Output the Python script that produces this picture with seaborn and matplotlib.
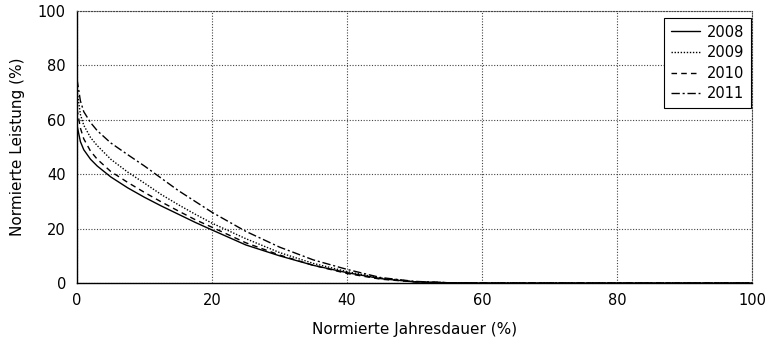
import numpy as np
import pandas as pd
import matplotlib
matplotlib.use("Agg")
import matplotlib.pyplot as plt
import seaborn as sns
from matplotlib.ticker import MultipleLocator

# Data
dauer = [0, 0.5, 1, 2, 3, 5, 7.5, 10, 12.5, 15, 17.5, 20, 25, 30, 35, 40, 45, 50, 55, 60, 100]
y2008 = [58, 52, 49, 45.5, 43, 39, 35, 31.5, 28.3, 25.3, 22.3, 19.5, 14, 10, 6.5, 3.8, 1.6, 0.4, 0.1, 0, 0]
y2009 = [71, 62, 58, 53.5, 50.5, 45.5, 40.8, 36.7, 32.5, 28.8, 25.3, 22, 16.3, 11.2, 7.2, 4.2, 1.8, 0.5, 0.1, 0, 0]
y2010 = [64, 57, 53, 48.5, 45.5, 41, 37, 33.3, 29.8, 26.5, 23.3, 20.5, 14.8, 10.3, 6.5, 3.5, 1.4, 0.4, 0.1, 0, 0]
y2011 = [75, 67, 63, 59, 56, 51.5, 47.2, 43, 38.5, 34, 30, 26, 19, 13.2, 8.5, 5, 2, 0.6, 0.1, 0, 0]
jahre = ["2008", "2009", "2010", "2011"]
xticks = [0, 20, 40, 60, 80, 100]
yticks = [0, 20, 40, 60, 80, 100]

frames = []
for j, vals in zip(jahre, [y2008, y2009, y2010, y2011]):
    frames.append(pd.DataFrame({"x": dauer, "y": vals, "Jahr": j}))
df = pd.concat(frames, ignore_index=True)

sns.set_style("white")
plt.rcParams["font.family"] = ["DejaVu Sans"]
plt.rcParams["text.color"] = "black"
plt.rcParams["axes.labelcolor"] = "black"
plt.rcParams["xtick.color"] = "black"
plt.rcParams["ytick.color"] = "black"

fig = plt.figure(figsize=(7.72, 3.44), dpi=100)
ax = fig.add_axes([77 / 772, 1 - 283 / 344, (752 - 77) / 772, (283 - 11) / 344])

dashes = {"2008": "", "2009": (1, 1.2), "2010": (4, 3), "2011": (6, 2, 1.5, 2)}
sns.lineplot(data=df, x="x", y="y", hue="Jahr", style="Jahr",
             palette=["black"] * 4, dashes=dashes, linewidth=1.0, ax=ax,
             legend=True)

ax.set_xlim(0, 100)
ax.set_ylim(0, 100)
ax.set_xticks(xticks)
ax.set_yticks(yticks)
ax.xaxis.set_minor_locator(MultipleLocator(10))
ax.yaxis.set_minor_locator(MultipleLocator(10))
ax.tick_params(axis="both", which="major", direction="in", length=5, width=0.8,
               labelsize=10.5, top=False, right=False, color="black", labelcolor="black")
ax.tick_params(axis="both", which="minor", direction="in", length=3, width=0.8,
               top=False, right=False, color="black")
ax.tick_params(axis="x", pad=7)
ax.tick_params(axis="y", pad=8)
ax.grid(True, which="major", linestyle=(0, (1, 1.5)), color="#444444", linewidth=0.8)
ax.set_axisbelow(True)

for s in ["left", "bottom"]:
    ax.spines[s].set_color("black")
    ax.spines[s].set_linewidth(1.0)
for s in ["top", "right"]:
    ax.spines[s].set_color("#444444")
    ax.spines[s].set_linestyle((0, (1, 1.5)))
    ax.spines[s].set_linewidth(0.8)

ax.set_xlabel("Normierte Jahresdauer (%)", fontsize=11, labelpad=10, color="black")
ax.set_ylabel("Normierte Leistung (%)", fontsize=11, labelpad=9, color="black")

leg = ax.legend(loc="upper right", bbox_to_anchor=((751 - 77) / 675, (283 - 18) / 272),
                borderaxespad=0, fontsize=10.5,
                frameon=True, fancybox=False, handlelength=2.0, handletextpad=0.5,
                borderpad=0.45, labelspacing=0.38, title=None)
for t in leg.get_texts():
    t.set_color("black")
leg.get_frame().set_edgecolor("black")
leg.get_frame().set_linewidth(0.8)
leg.get_frame().set_facecolor("white")
leg.get_frame().set_alpha(1)

fig.savefig("out.png", dpi=100)
